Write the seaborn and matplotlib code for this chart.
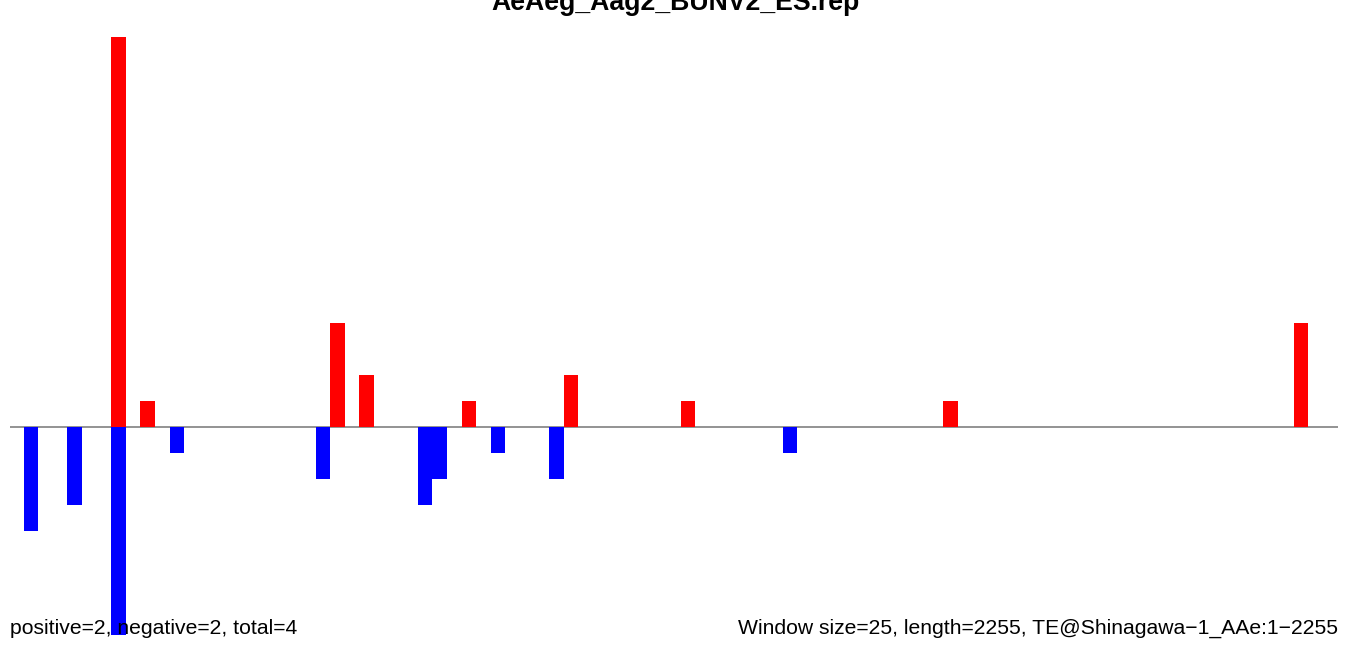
import numpy as np
import pandas as pd
import matplotlib
matplotlib.use("Agg")
import matplotlib.pyplot as plt
import seaborn as sns

# windows of 25 bp along a 2255 bp element
window_size = 25
seq_length = 2255
title = "AeAeg_Aag2_BUNV2_ES.rep"

# window index -> count (positive strand, red)
pos_windows = [7, 9, 22, 24, 31, 38, 46, 64, 88]
pos_counts = [15, 1, 4, 2, 1, 2, 1, 1, 4]

# window index -> count (negative strand, blue, drawn downwards)
neg_windows = [1, 4, 7, 11, 21, 28, 29, 33, 37, 53]
neg_counts = [4, 3, 8, 1, 2, 3, 2, 1, 2, 1]

left_label = "positive=2, negative=2, total=4"
right_label = "Window size=25, length=2255, TE@Shinagawa\u22121_AAe:1\u22122255"

df = pd.concat([
    pd.DataFrame({"pos": np.array(pos_windows) * window_size,
                  "count": pos_counts, "strand": "plus"}),
    pd.DataFrame({"pos": np.array(neg_windows) * window_size,
                  "count": -np.array(neg_counts), "strand": "minus"}),
], ignore_index=True)

sns.set_style("white")
plt.rcParams['font.family'] = ['Liberation Sans', 'DejaVu Sans']
plt.rcParams['text.color'] = 'black'

fig = plt.figure(figsize=(13.5, 6.56), dpi=100)
ax = fig.add_axes([10 / 1350, 21 / 656, 1328 / 1350, 598 / 656])

ax.axhline(0, color="#808080", lw=1.2, zorder=0)
sns.barplot(data=df, x="pos", y="count", hue="strand",
            palette={"plus": "#ff0000", "minus": "#0000ff"},
            native_scale=True, dodge=False, width=1, saturation=1,
            errorbar=None, linewidth=0, legend=False, ax=ax, zorder=2)

ax.set_xlim(-10.8, 2263.2)
ax.set_ylim(-8, 15)
ax.set_axis_off()

fig.text(0.5, 1 - 10.5 / 656, title, ha="center", va="baseline",
         fontsize=19.2, fontweight="bold", color="black")
fig.text(10 / 1350, 1 - 634 / 656, left_label, ha="left", va="baseline",
         fontsize=15.2, color="black")
fig.text(1338 / 1350, 1 - 634 / 656, right_label, ha="right", va="baseline",
         fontsize=15.2, color="black")

fig.savefig("out.png", dpi=100)
